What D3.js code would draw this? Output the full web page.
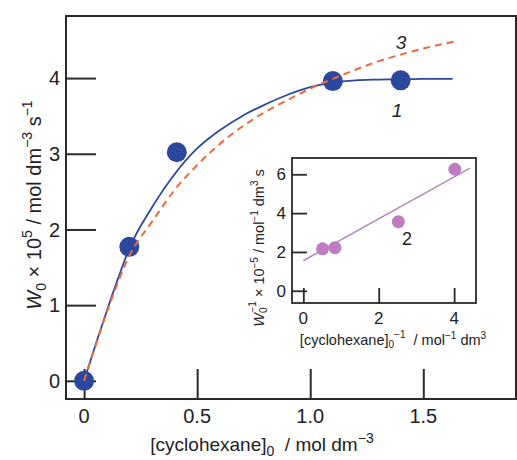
<!DOCTYPE html>
<html>
<head>
<meta charset="utf-8">
<script src="https://cdn.jsdelivr.net/npm/d3@7/dist/d3.min.js"></script>
<style>
  html, body { margin: 0; padding: 0; background: #fff; }
  svg { display: block; font-family: "Liberation Sans", Arial, sans-serif; }
</style>
</head>
<body>
<svg id="chart" width="517" height="460"></svg>
<script>
// Measured initial rates W0 (×10^5 mol dm^-3 s^-1) vs [cyclohexane]0 (mol dm^-3)
const concX = [0, 0.2, 0.41, 1.1, 1.4];
const rateY = [0, 1.77, 3.02, 3.96, 3.97];

// Curve 1: smooth fit through the measured rates
const fit1X = [0, 0.05, 0.1, 0.15, 0.2, 0.3, 0.4, 0.5, 0.6, 0.7, 0.8, 0.9, 1.0, 1.1, 1.2, 1.3, 1.4, 1.5, 1.63];
const fit1Y = [0, 0.47, 0.92, 1.35, 1.75, 2.29, 2.73, 3.07, 3.31, 3.5, 3.65, 3.78, 3.88, 3.94, 3.97, 3.98, 3.985, 3.99, 3.99];

// Curve 3: saturation curve (dashed)
const fit3X = [0, 0.05, 0.1, 0.2, 0.3, 0.4, 0.5, 0.6, 0.7, 0.8, 0.9, 1.0, 1.1, 1.2, 1.3, 1.4, 1.5, 1.65];
const fit3Y = [0, 0.46, 0.9, 1.65, 2.1, 2.52, 2.85, 3.13, 3.36, 3.55, 3.71, 3.86, 3.99, 4.11, 4.22, 4.31, 4.39, 4.49];

// Inset: reciprocal plot W0^-1 vs [cyclohexane]0^-1
const invX = [0.51, 0.84, 2.52, 4.02];
const invY = [2.16, 2.22, 3.56, 6.26];
const invLineX = [0, 4.42];
const invLineY = [1.55, 6.32];

const mainXTicks = [0, 0.5, 1.0, 1.5];
const mainXTickLabels = ["0", "0.5", "1.0", "1.5"];
const mainYTicks = [0, 1, 2, 3, 4];
const insetXTicks = [0, 2, 4];
const insetYTicks = [0, 2, 4, 6];

const svg = d3.select("#chart");
const frameColor = "#2a2a2a";
const blue = "#2c479e";
const orange = "#ea6a3e";
const purple = "#c07cc0";
const purpleLine = "#b58cb5";

// ---------- main plot ----------
const M = { left: 66, right: 516, top: 16, bottom: 399 };
const x = d3.scaleLinear().domain([-0.08, 1.91]).range([M.left, M.right]);
const y = d3.scaleLinear().domain([-0.24, 4.82]).range([M.bottom, M.top]);

svg.append("rect")
  .attr("x", M.left).attr("y", M.top)
  .attr("width", M.right - M.left).attr("height", M.bottom - M.top)
  .attr("fill", "none").attr("stroke", frameColor).attr("stroke-width", 2);

// inward ticks on left axis
const yAxis = d3.axisRight(y).tickValues(mainYTicks).tickSize(30).tickFormat("");
svg.append("g").attr("transform", `translate(${M.left},0)`).call(yAxis)
  .call(g => g.select(".domain").remove())
  .call(g => g.selectAll(".tick line").attr("stroke", frameColor).attr("stroke-width", 2));
svg.append("g").selectAll("text").data(mainYTicks).join("text")
  .attr("x", 60).attr("y", d => y(d)).attr("dy", "0.36em")
  .attr("text-anchor", "end").attr("font-size", 20).attr("fill", "#222")
  .text(d => d);

// inward ticks on bottom axis
const xAxis = d3.axisTop(x).tickValues(mainXTicks).tickSize(30).tickFormat("");
svg.append("g").attr("transform", `translate(0,${M.bottom})`).call(xAxis)
  .call(g => g.select(".domain").remove())
  .call(g => g.selectAll(".tick line").attr("stroke", frameColor).attr("stroke-width", 2));
svg.append("g").selectAll("text").data(mainXTicks).join("text")
  .attr("x", d => x(d)).attr("y", 423)
  .attr("text-anchor", "middle").attr("font-size", 20).attr("fill", "#222")
  .text((d, i) => mainXTickLabels[i]);

// axis titles
const xt = svg.append("text").attr("x", 262).attr("y", 451)
  .attr("text-anchor", "middle").attr("font-size", 19).attr("fill", "#222");
xt.append("tspan").text("[cyclohexane]");
xt.append("tspan").attr("font-size", 14).attr("dy", 5).text("0");
xt.append("tspan").attr("dy", -5).text("\u00a0 / mol dm");
xt.append("tspan").attr("font-size", 14).attr("dy", -8).text("\u22123");

const yt = svg.append("text")
  .attr("transform", "translate(41,205) rotate(-90)")
  .attr("text-anchor", "middle").attr("font-size", 20).attr("fill", "#222");
yt.append("tspan").attr("font-style", "italic").text("W");
yt.append("tspan").attr("font-size", 14).attr("dy", 5).text("0");
yt.append("tspan").attr("dy", -5).text(" \u00d7 10");
yt.append("tspan").attr("font-size", 14).attr("dy", -9).text("5");
yt.append("tspan").attr("dy", 9).text(" / mol dm");
yt.append("tspan").attr("font-size", 14).attr("dy", -9).text("\u22123");
yt.append("tspan").attr("dy", 9).text(" s");
yt.append("tspan").attr("font-size", 14).attr("dy", -9).text("\u22121");

// measured points
svg.append("g").selectAll("circle").data(concX).join("circle")
  .attr("cx", d => x(d)).attr("cy", (d, i) => y(rateY[i])).attr("r", 10)
  .attr("fill", blue);

// fitted curves
const line = d3.line().x(d => x(d[0])).y(d => y(d[1])).curve(d3.curveMonotoneX);
svg.append("path").datum(fit1X.map((v, i) => [v, fit1Y[i]]))
  .attr("d", line).attr("fill", "none").attr("stroke", blue).attr("stroke-width", 1.8);
svg.append("path").datum(fit3X.map((v, i) => [v, fit3Y[i]]))
  .attr("d", line).attr("fill", "none").attr("stroke", orange)
  .attr("stroke-width", 2).attr("stroke-dasharray", "7,5");

svg.append("text").attr("x", 401).attr("y", 49).attr("text-anchor", "middle")
  .attr("font-size", 19).attr("font-style", "italic").attr("fill", "#222").text("3");
svg.append("text").attr("x", 397).attr("y", 117).attr("text-anchor", "middle")
  .attr("font-size", 19).attr("font-style", "italic").attr("fill", "#222").text("1");

// ---------- inset ----------
const I = { left: 292, right: 476, top: 158, bottom: 303 };
const ix = d3.scaleLinear().domain([-0.3, 4.58]).range([I.left, I.right]);
const iy = d3.scaleLinear().domain([-0.63, 6.84]).range([I.bottom, I.top]);

svg.append("rect")
  .attr("x", I.left).attr("y", I.top)
  .attr("width", I.right - I.left).attr("height", I.bottom - I.top)
  .attr("fill", "#fff").attr("stroke", frameColor).attr("stroke-width", 1.8);

svg.append("g").attr("transform", `translate(${I.left},0)`)
  .call(d3.axisRight(iy).tickValues(insetYTicks).tickSize(15).tickFormat(""))
  .call(g => g.select(".domain").remove())
  .call(g => g.selectAll(".tick line").attr("stroke", frameColor).attr("stroke-width", 1.8));
svg.append("g").selectAll("text").data(insetYTicks).join("text")
  .attr("x", 286).attr("y", d => iy(d)).attr("dy", "0.36em")
  .attr("text-anchor", "end").attr("font-size", 17).attr("fill", "#222")
  .text(d => d);

svg.append("g").attr("transform", `translate(0,${I.bottom})`)
  .call(d3.axisTop(ix).tickValues(insetXTicks).tickSize(15).tickFormat(""))
  .call(g => g.select(".domain").remove())
  .call(g => g.selectAll(".tick line").attr("stroke", frameColor).attr("stroke-width", 1.8));
svg.append("g").selectAll("text").data(insetXTicks).join("text")
  .attr("x", d => ix(d)).attr("y", 324)
  .attr("text-anchor", "middle").attr("font-size", 17).attr("fill", "#222")
  .text(d => d);

const ixt = svg.append("text").attr("x", 393).attr("y", 345)
  .attr("text-anchor", "middle").attr("font-size", 14.5).attr("fill", "#222");
ixt.append("tspan").text("[cyclohexane]");
ixt.append("tspan").attr("font-size", 10).attr("dy", 3).text("0");
ixt.append("tspan").attr("font-size", 10).attr("dy", -10).text("\u22121");
ixt.append("tspan").attr("dy", 7).text("\u00a0 / mol");
ixt.append("tspan").attr("font-size", 10).attr("dy", -6).text("\u22121");
ixt.append("tspan").attr("dy", 6).text(" dm");
ixt.append("tspan").attr("font-size", 10).attr("dy", -6).text("3");

const iyt = svg.append("text")
  .attr("transform", "translate(264,248) rotate(-90)")
  .attr("text-anchor", "middle").attr("font-size", 14.5).attr("fill", "#222");
iyt.append("tspan").attr("font-style", "italic").text("W");
iyt.append("tspan").attr("font-size", 10).attr("dy", 3).text("0");
iyt.append("tspan").attr("font-size", 10).attr("dx", -5).attr("dy", -11).text("\u22121");
iyt.append("tspan").attr("dy", 8).text(" \u00d7 10");
iyt.append("tspan").attr("font-size", 10).attr("dy", -6).text("\u22125");
iyt.append("tspan").attr("dy", 6).text(" / mol");
iyt.append("tspan").attr("font-size", 10).attr("dy", -6).text("\u22121");
iyt.append("tspan").attr("dy", 6).text(" dm");
iyt.append("tspan").attr("font-size", 10).attr("dy", -6).text("3");
iyt.append("tspan").attr("dy", 6).text(" s");

const iline = d3.line().x(d => ix(d[0])).y(d => iy(d[1]));
svg.append("path").datum(invLineX.map((v, i) => [v, invLineY[i]]))
  .attr("d", iline).attr("fill", "none").attr("stroke", purpleLine).attr("stroke-width", 1.6);

svg.append("g").selectAll("circle").data(invX).join("circle")
  .attr("cx", d => ix(d)).attr("cy", (d, i) => iy(invY[i])).attr("r", 6.5)
  .attr("fill", purple);

svg.append("text").attr("x", 407).attr("y", 245).attr("text-anchor", "middle")
  .attr("font-size", 18).attr("fill", "#222").text("2");
</script>
</body>
</html>
